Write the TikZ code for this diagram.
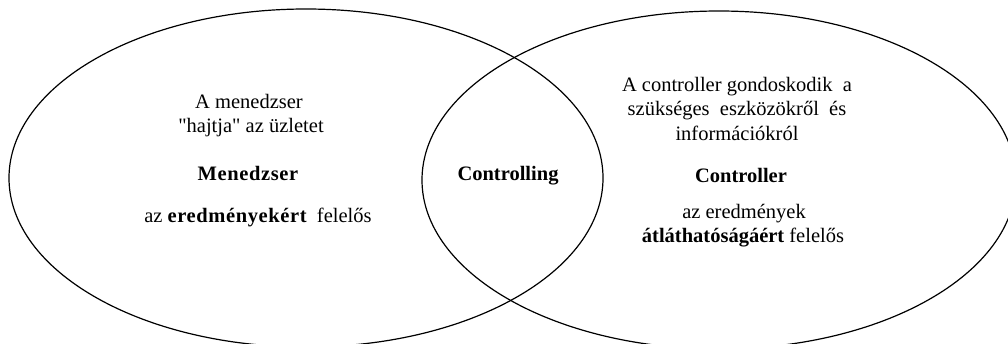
\documentclass[tikz,border=0pt]{standalone}
\usepackage{fontspec}
\setmainfont{Liberation Serif}[Ligatures=TeXOff]
\usetikzlibrary{shapes.geometric}
\begin{document}
\begin{tikzpicture}[x=1pt,y=-1pt,
  circlebox/.style={draw=black, line width=1.2pt, ellipse, inner sep=0pt,
    minimum width=594pt, minimum height=338pt},
  txt/.style={anchor=base, inner sep=0pt, font=\fontsize{20.5}{24}\selectfont},
  spaced/.style={txt, font=\fontsize{20.5}{24}\selectfont\addfontfeature{LetterSpace=3}}]
  \useasboundingbox (0,0) rectangle (1008,343);
  \clip (0,0) rectangle (1008,343);
  \fill[white] (0,0) rectangle (1008,343);

  % the two overlapping sets
  \node[circlebox] (mgr) at (306,178) {};
  \node[circlebox] (ctr) at (719,180) {};

  % manager side
  \node[txt] (m1) at (249,108) {A menedzser};
  \node[txt] (m2) at (251,132) {"hajtja" az üzletet};
  \node[spaced] (mt) at (248,180) {\bfseries Menedzser};
  \node[txt] (m3) at (258,222) {az {\addfontfeature{LetterSpace=3}\bfseries eredményekért}\ \ felelős};

  % overlap
  \node[txt] (ov) at (508,180) {\bfseries Controlling};

  % controller side
  \node[txt] (c1) at (737,91) {A controller gondoskodik\ \ a};
  \node[txt] (c2) at (737,115) {szükséges\ \ eszközökről\ \ és};
  \node[txt] (c3) at (737,140) {információkról};
  \node[txt] (ct) at (741,182) {\bfseries Controller};
  \node[txt] (c4) at (744,218) {az eredmények};
  \node[txt] (c5) at (743,242) {\bfseries átláthatóságáért\mdseries\ felelős};
\end{tikzpicture}
\end{document}
